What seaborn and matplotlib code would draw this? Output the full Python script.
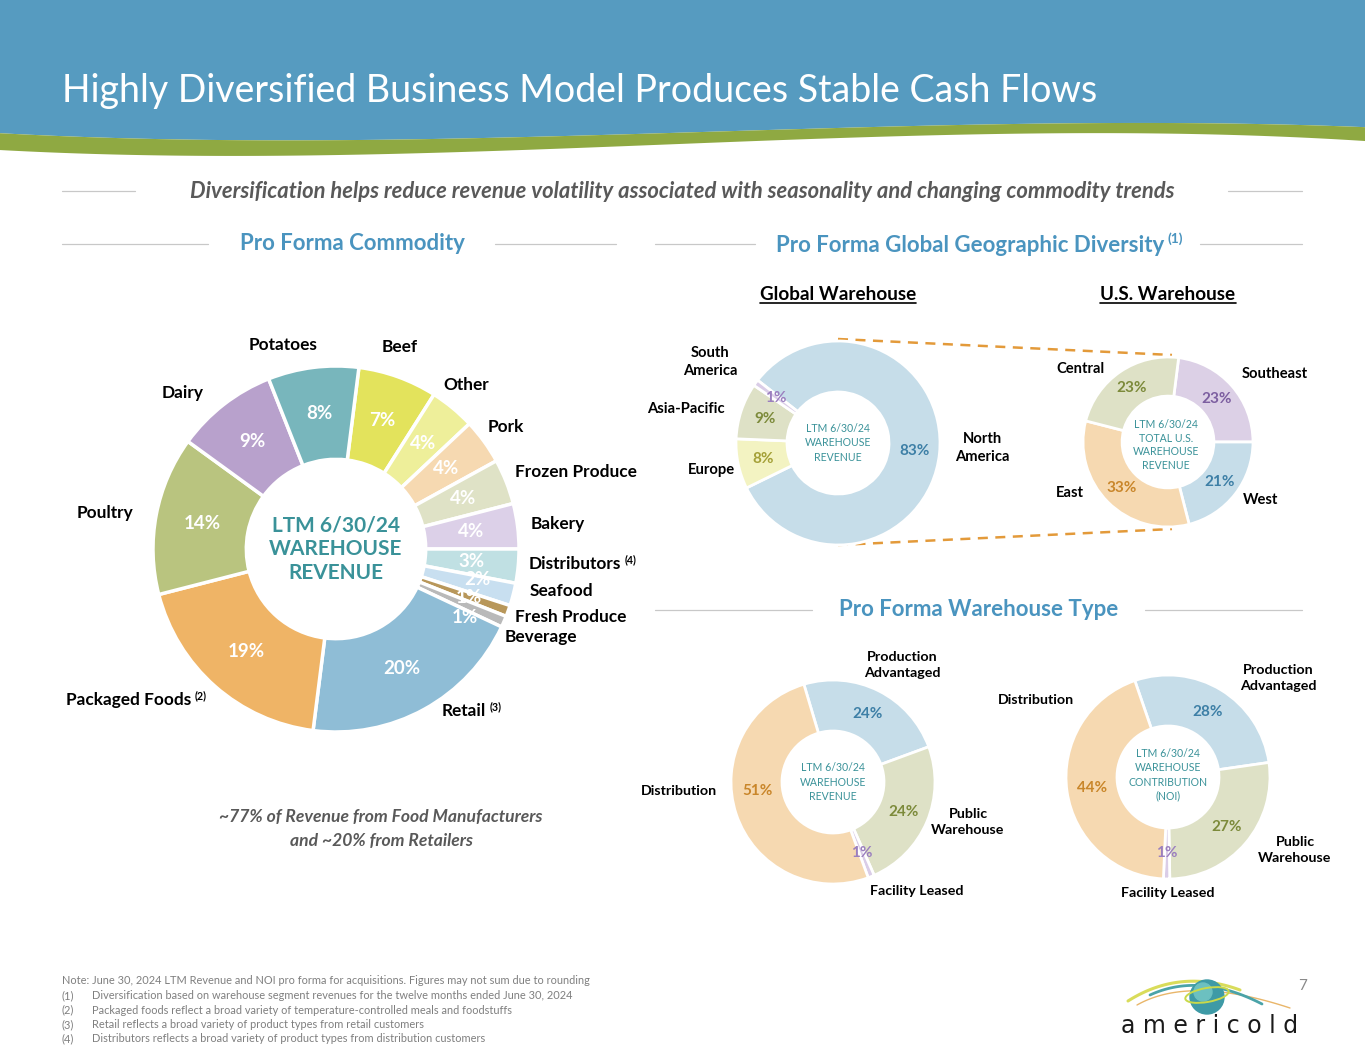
import matplotlib

matplotlib.use("Agg")
import matplotlib.pyplot as plt
import numpy as np
import seaborn as sns

sns.set_theme(style="white")
plt.rcParams["font.family"] = ["Lato", "DejaVu Sans"]

W, H = 1365, 1055

# ── data ─────────────────────────────────────────────────────
commodity = ["Beef", "Other", "Pork", "Frozen Produce", "Bakery", "Distributors",
             "Seafood", "Fresh Produce", "Beverage", "Retail", "Packaged Foods",
             "Poultry", "Dairy", "Potatoes"]
commodity_pct = [7, 4, 4, 4, 4, 3, 2, 1, 1, 20, 19, 14, 9, 8]
commodity_colors = ["#e3e35c", "#eeef9a", "#f6d9b1", "#dfe2c6", "#dcd0e8", "#c0e0e3",
                    "#c8dff0", "#b8975a", "#b9b9b9", "#8fbdd6", "#efb466",
                    "#b9c47f", "#b8a1cc", "#78b6bc"]

global_regions = ["North America", "Europe", "Asia-Pacific", "South America"]
global_pct = [83, 8, 9, 1]
global_colors = ["#c6dde9", "#f3f3c2", "#dee1c6", "#dacde7"]
global_text_colors = ["#3d7fa6", "#a4a037", "#7c8a3a", "#9b7fbf"]

us_regions = ["Southeast", "West", "East", "Central"]
us_pct = [23, 21, 33, 23]
us_colors = ["#dcd0e6", "#c6dde9", "#f6d9b1", "#dee1c6"]
us_text_colors = ["#7c5ea0", "#3d7fa6", "#c9862a", "#7c8a3a"]

wh_types = ["Production Advantaged", "Public Warehouse", "Facility Leased", "Distribution"]
wh_revenue_pct = [24, 24, 1, 51]
wh_noi_pct = [28, 27, 1, 44]
wh_colors = ["#c6dde9", "#dee1c6", "#dacde7", "#f6d9b1"]
wh_text_colors = ["#3d7fa6", "#7c8a3a", "#9b7fbf", "#c9862a"]

footnotes = [
    ("Note: June 30, 2024 LTM Revenue and NOI pro forma for acquisitions. "
     "Figures may not sum due to rounding", None),
    ("(1)", "Diversification based on warehouse segment revenues for the twelve months ended June 30, 2024"),
    ("(2)", "Packaged foods reflect a broad variety of temperature-controlled meals and foodstuffs"),
    ("(3)", "Retail reflects a broad variety of product types from retail customers"),
    ("(4)", "Distributors reflects a broad variety of product types from distribution customers"),
]

BANNER = "#569bc0"
GREEN = "#8fa942"
HEAD = "#4a94bf"
TEAL = "#3a9299"
GREY = "#595959"

fig = plt.figure(figsize=(W / 100, H / 100), dpi=100)
ax0 = fig.add_axes([0, 0, 1, 1])
ax0.set_xlim(0, W)
ax0.set_ylim(H, 0)
ax0.axis("off")
renderer = fig.canvas.get_renderer()


def extent(t):
    bb = t.get_window_extent(renderer)
    return bb.x0, H - bb.y1, bb.x1, H - bb.y0


def txt(x, y, s, size, **kw):
    kw.setdefault("ha", "center")
    kw.setdefault("va", "center")
    kw.setdefault("color", "black")
    return ax0.text(x, y, s, fontsize=size, **kw)


def with_sup(x, y, s, sup, size, **kw):
    t = txt(x, y, s, size, ha="left", **kw)
    x0, y0, x1, y1 = extent(t)
    txt(x1 + 3, y0 + 4, sup, size * 0.62, ha="left", va="center", **kw)
    return t


# ── banner ───────────────────────────────────────────────────
xs = np.linspace(0, W, 400)
blue_edge = np.polyval(np.polyfit([0, 300, 700, 1000, 1365], [133, 141, 131, 125, 127], 3), xs)
green_edge = np.polyval(np.polyfit([0, 250, 600, 1000, 1365], [150, 156, 147, 134, 141], 3), xs)
ax0.fill_between(xs, 0, blue_edge, color=BANNER, lw=0)
ax0.fill_between(xs, blue_edge, green_edge, color=GREEN, lw=0)
txt(62, 91, "Highly Diversified Business Model Produces Stable Cash Flows", 27,
    ha="left", color="white", fontweight="normal")

# ── subtitle and section heads ───────────────────────────────
txt(682, 192, "Diversification helps reduce revenue volatility associated with "
    "seasonality and changing commodity trends", 15.8, color=GREY,
    fontweight="bold", fontstyle="italic")
for x0_, x1_, y_ in [(62, 135, 191), (1228, 1302, 191), (62, 208, 244), (495, 616, 244),
                     (655, 755, 244), (1200, 1302, 244), (655, 812, 610), (1145, 1302, 610)]:
    ax0.plot([x0_, x1_], [y_, y_], color="#c8c8c8", lw=0.9)
txt(352, 244, "Pro Forma Commodity", 16, color=HEAD, fontweight="bold")
with_sup(776, 245, "Pro Forma Global Geographic Diversity", "(1)", 16, color=HEAD,
         fontweight="bold")
txt(979, 610, "Pro Forma Warehouse Type", 16, color=HEAD, fontweight="bold")


# ── donuts ───────────────────────────────────────────────────
def donut(cx, cy, r, values, colors, start, hole, text_colors, size, lw=2.0):
    pad = 1.04
    ax = fig.add_axes([(cx - r * pad) / W, 1 - (cy + r * pad) / H,
                       2 * r * pad / W, 2 * r * pad / H])
    wedges, _ = ax.pie(values, colors=colors, startangle=start, counterclock=False,
                       radius=1, wedgeprops=dict(width=1 - hole, edgecolor="white",
                                                 linewidth=lw))
    ax.set_xlim(-pad, pad)
    ax.set_ylim(-pad, pad)
    ax.set_aspect("equal")
    ax.axis("off")
    labels = []
    rm = (1 + hole) / 2
    for w, v, c in zip(wedges, values, text_colors):
        a = np.deg2rad((w.theta1 + w.theta2) / 2)
        labels.append(ax.text(rm * np.cos(a), rm * np.sin(a), f"{v}%", ha="center",
                              va="center", fontsize=size, fontweight="bold", color=c))
    return ax, labels


def move(label, deg, rm):
    a = np.deg2rad(90 - deg)
    label.set_position((rm * np.cos(a), rm * np.sin(a)))


# commodity
_, com_labels = donut(336, 549, 183, commodity_pct, commodity_colors, 82.8, 0.49,
                      ["white"] * len(commodity_pct), 13.5, lw=2.5)
move(com_labels[6], 102, 0.79)
move(com_labels[7], 110, 0.77)
move(com_labels[8], 118, 0.8)
txt(336, 549, "LTM 6/30/24\nWAREHOUSE\nREVENUE", 15, color=TEAL, fontweight="bold",
    linespacing=1.25)
for s, x, y, ha in [("Potatoes", 283, 345, "center"), ("Beef", 400, 347, "center"),
                    ("Other", 466, 385, "center"), ("Dairy", 183, 393, "center"),
                    ("Pork", 506, 427, "center"), ("Frozen Produce", 515, 472, "left"),
                    ("Bakery", 531, 524, "left"), ("Seafood", 530, 591, "left"),
                    ("Fresh Produce", 515, 617, "left"), ("Beverage", 505, 637, "left"),
                    ("Poultry", 77, 513, "left")]:
    txt(x, y, s, 12.4, ha=ha, fontweight="bold")
with_sup(529, 564, "Distributors", "(4)", 12.4, fontweight="bold")
with_sup(442, 711, "Retail", "(3)", 12.4, fontweight="bold")
with_sup(66, 700, "Packaged Foods", "(2)", 12.4, fontweight="bold")
txt(381, 829, "~77% of Revenue from Food Manufacturers\nand ~20% from Retailers", 12.6,
    color=GREY, fontweight="bold", fontstyle="italic", linespacing=1.55)

# geographic
for s, x in [("Global Warehouse", 838), ("U.S. Warehouse", 1168)]:
    t = txt(x, 295, s, 13.6, fontweight="bold")
    x0_, y0_, x1_, y1_ = extent(t)
    ax0.plot([x0_, x1_], [y1_ - 1, y1_ - 1], color="black", lw=1.2)

ax0.plot([838, 1172], [339, 355], color="#e39a3a", lw=1.8, ls=(0, (4, 3)))
ax0.plot([838, 1172], [545, 529], color="#e39a3a", lw=1.8, ls=(0, (4, 3)))

donut(838, 443, 102, global_pct, global_colors, 142, 0.5, global_text_colors, 11)
txt(838, 443, "LTM 6/30/24\nWAREHOUSE\nREVENUE", 7.6, color=TEAL, linespacing=1.35)
donut(1168, 442, 85, us_pct, us_colors, 82.8, 0.54, us_text_colors, 11)
txt(1166, 445, "LTM 6/30/24\nTOTAL U.S.\nWAREHOUSE\nREVENUE", 7.6, color=TEAL,
    linespacing=1.3)
for s, x, y in [("South\nAmerica", 710, 362), ("Asia-Pacific", 686, 409),
                ("Europe", 711, 470), ("North\nAmerica", 982, 448),
                ("Central", 1080, 369), ("Southeast", 1275, 374),
                ("East", 1070, 493), ("West", 1261, 500)]:
    txt(x, y, s, 10.6, fontweight="bold", linespacing=1.35)

# warehouse type
_, rev_labels = donut(833, 782, 102, wh_revenue_pct, wh_colors, 106.6, 0.5,
                      wh_text_colors, 11)
move(rev_labels[3], 263, 0.75)
txt(833, 782, "LTM 6/30/24\nWAREHOUSE\nREVENUE", 7.6, color=TEAL, linespacing=1.35)
_, noi_labels = donut(1168, 777, 102, wh_noi_pct, wh_colors, 109, 0.5,
                      wh_text_colors, 11)
txt(1168, 775, "LTM 6/30/24\nWAREHOUSE\nCONTRIBUTION\n(NOI)", 7.6, color=TEAL,
    linespacing=1.35)
for s, x, y in [("Production\nAdvantaged", 902, 665), ("Public\nWarehouse", 968, 822),
                ("Facility Leased", 917, 891), ("Distribution", 679, 791),
                ("Production\nAdvantaged", 1278, 678), ("Public\nWarehouse", 1295, 850),
                ("Facility Leased", 1168, 893), ("Distribution", 1036, 700)]:
    txt(x, y, s, 10.3, fontweight="bold", linespacing=1.35)

# ── footnotes ────────────────────────────────────────────────
for i, (a, b) in enumerate(footnotes):
    y = 981 + i * 14.5
    txt(62, y, a, 7.9, ha="left", color="#7f7f7f")
    if b:
        txt(92, y, b, 7.9, ha="left", color="#7f7f7f")
txt(1303, 986, "7", 11, color="#8a8a8a")

# ── logo ─────────────────────────────────────────────────────
t = np.linspace(0, 1, 60)
for (p0, p1, p2), col, lw in [(((1137, 1005), (1190, 975), (1290, 1008)), "#e9b66a", 1.0),
                              (((1128, 1001), (1180, 968), (1240, 990)), "#d9dc5a", 2.2),
                              (((1150, 995), (1200, 972), (1262, 1004)), "#4aa3a8", 2.0)]:
    bx = (1 - t) ** 2 * p0[0] + 2 * (1 - t) * t * p1[0] + t ** 2 * p2[0]
    by = (1 - t) ** 2 * p0[1] + 2 * (1 - t) * t * p1[1] + t ** 2 * p2[1]
    ax0.plot(bx, by, color=col, lw=lw, solid_capstyle="round")
ax0.add_patch(plt.Circle((1207, 997), 17, color="#3e9aa6", zorder=3))
ax0.add_patch(plt.Circle((1203, 992), 9, color="#6cc0c0", zorder=3))
ax0.add_patch(matplotlib.patches.Ellipse((1207, 995), 44, 14, angle=-10, fill=False,
                                         ec="#c9d94a", lw=1.4, zorder=4))
txt(1210, 1026, "a m e r i c o l d", 17, family="DejaVu Sans", fontweight="normal",
    color="#1a1a1a")

fig.savefig("out.png", dpi=100)
